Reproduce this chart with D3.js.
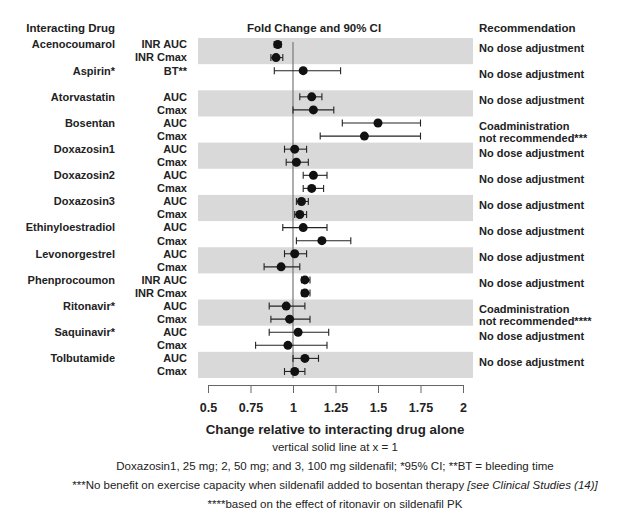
<!DOCTYPE html>
<html>
<head>
<meta charset="utf-8">
<script src="https://cdn.jsdelivr.net/npm/d3@7"></script>
<style>
  body { margin: 0; background: #fff; }
  text { font-family: "Liberation Sans", Arial, sans-serif; fill: #222; }
</style>
</head>
<body>
<script>
const drugs = ["Acenocoumarol", "Aspirin*", "Atorvastatin", "Bosentan", "Doxazosin1", "Doxazosin2",
  "Doxazosin3", "Ethinyloestradiol", "Levonorgestrel", "Phenprocoumon", "Ritonavir*", "Saquinavir*", "Tolbutamide"];

const measures = [["INR AUC", "INR Cmax"], ["BT**"], ["AUC", "Cmax"], ["AUC", "Cmax"], ["AUC", "Cmax"], ["AUC", "Cmax"],
  ["AUC", "Cmax"], ["AUC", "Cmax"], ["AUC", "Cmax"], ["INR AUC", "INR Cmax"], ["AUC", "Cmax"], ["AUC", "Cmax"], ["AUC", "Cmax"]];

const ratio = [[0.91, 0.90], [1.06], [1.11, 1.12], [1.50, 1.42], [1.01, 1.02], [1.12, 1.11],
  [1.05, 1.04], [1.06, 1.17], [1.01, 0.93], [1.07, 1.07], [0.96, 0.98], [1.03, 0.97], [1.07, 1.01]];
const ciLow = [[0.89, 0.87], [0.89], [1.04, 1.00], [1.29, 1.16], [0.95, 0.96], [1.06, 1.06],
  [1.02, 1.01], [0.94, 1.02], [0.95, 0.83], [1.05, 1.05], [0.86, 0.87], [0.86, 0.78], [1.00, 0.95]];
const ciHigh = [[0.93, 0.94], [1.28], [1.17, 1.24], [1.75, 1.75], [1.08, 1.09], [1.20, 1.18],
  [1.09, 1.08], [1.20, 1.34], [1.08, 1.04], [1.10, 1.10], [1.07, 1.10], [1.21, 1.20], [1.15, 1.07]];

const recommendations = [["No dose adjustment"], ["No dose adjustment"], ["No dose adjustment"],
  ["Coadministration", "not recommended***"], ["No dose adjustment"], ["No dose adjustment"],
  ["No dose adjustment"], ["No dose adjustment"], ["No dose adjustment"], ["No dose adjustment"],
  ["Coadministration", "not recommended****"], ["No dose adjustment"], ["No dose adjustment"]];

const xTicks = [0.5, 0.75, 1, 1.25, 1.5, 1.75, 2];

const w = 624, h = 531;

const svg = d3.select("body").append("svg")
  .attr("width", w)
  .attr("height", h);

const x = d3.scaleLinear().domain([0.5, 2]).range([208, 463]);
const y = d3.scaleBand().domain(drugs).range([38, 378]);
const slot = d3.scalePoint().domain([0, 1]).range([0, y.bandwidth()]).padding(0.5);

// rows
const rows = [];
drugs.forEach((d, i) => {
  measures[i].forEach((m, j) => {
    rows.push({ drug: d, measure: m, j: j, v: ratio[i][j], lo: ciLow[i][j], hi: ciHigh[i][j] });
  });
});
const rowY = r => y(r.drug) + slot(r.j);

// shaded bands
svg.selectAll("rect.band")
  .data(drugs.filter((d, i) => i % 2 === 0))
  .enter().append("rect")
  .attr("class", "band")
  .attr("x", x(0.5) - 10)
  .attr("y", d => y(d))
  .attr("width", x(2) - x(0.5) + 20)
  .attr("height", y.bandwidth())
  .attr("fill", "#d9d9d9");

// reference line at 1
svg.append("line")
  .attr("x1", x(1)).attr("x2", x(1))
  .attr("y1", 42).attr("y2", 378)
  .attr("stroke", "#777")
  .attr("stroke-width", 1.2);

// headers
svg.append("text").attr("x", 115).attr("y", 32).attr("text-anchor", "end")
  .style("font-size", "11.5px").style("font-weight", "bold").text("Interacting Drug");
svg.append("text").attr("x", 314).attr("y", 32).attr("text-anchor", "middle")
  .style("font-size", "11.5px").style("font-weight", "bold").text("Fold Change and 90% CI");
svg.append("text").attr("x", 479).attr("y", 32)
  .style("font-size", "11.5px").style("font-weight", "bold").text("Recommendation");

// drug labels
svg.selectAll("text.drug")
  .data(drugs)
  .enter().append("text")
  .attr("class", "drug")
  .attr("x", 115)
  .attr("y", d => y(d) + slot(0))
  .attr("dy", "0.35em")
  .attr("text-anchor", "end")
  .style("font-size", "11px").style("font-weight", "bold")
  .text(d => d);

// measure labels
svg.selectAll("text.measure")
  .data(rows)
  .enter().append("text")
  .attr("class", "measure")
  .attr("x", 187)
  .attr("y", rowY)
  .attr("dy", "0.35em")
  .attr("text-anchor", "end")
  .style("font-size", "11px").style("font-weight", "bold")
  .text(d => d.measure);

// CI lines
const ci = svg.selectAll("g.ci")
  .data(rows)
  .enter().append("g")
  .attr("class", "ci")
  .attr("stroke", "#222")
  .attr("stroke-width", 1.1);
ci.append("line")
  .attr("x1", d => x(d.lo)).attr("x2", d => x(d.hi))
  .attr("y1", rowY).attr("y2", rowY);
ci.append("line")
  .attr("x1", d => x(d.lo)).attr("x2", d => x(d.lo))
  .attr("y1", d => rowY(d) - 3.5).attr("y2", d => rowY(d) + 3.5);
ci.append("line")
  .attr("x1", d => x(d.hi)).attr("x2", d => x(d.hi))
  .attr("y1", d => rowY(d) - 3.5).attr("y2", d => rowY(d) + 3.5);

svg.selectAll("circle.pt")
  .data(rows)
  .enter().append("circle")
  .attr("class", "pt")
  .attr("cx", d => x(d.v))
  .attr("cy", rowY)
  .attr("r", 4.5)
  .attr("fill", "#111");

// recommendations
const rec = svg.selectAll("text.rec")
  .data(drugs)
  .enter().append("text")
  .attr("class", "rec")
  .attr("x", 479)
  .attr("y", d => y(d) + y.bandwidth() / 2 - 3)
  .style("font-size", "11px").style("font-weight", "bold");
rec.selectAll("tspan")
  .data((d, i) => recommendations[i])
  .enter().append("tspan")
  .attr("x", 479)
  .attr("dy", (d, k) => k === 0 ? "0.35em" : "12")
  .text(d => d);

// x axis
const xAxis = d3.axisBottom(x)
  .tickValues(xTicks)
  .tickFormat(d => d)
  .tickSize(8)
  .tickSizeOuter(8);
const ax = svg.append("g")
  .attr("transform", "translate(0,385)")
  .call(xAxis);
ax.selectAll("path, line").attr("stroke", "#666");
ax.selectAll("text")
  .attr("y", 18)
  .style("font-family", "'Liberation Sans', Arial, sans-serif")
  .style("font-size", "12.5px")
  .style("font-weight", "bold")
  .style("fill", "#222");

svg.append("text")
  .attr("x", 335).attr("y", 434)
  .attr("text-anchor", "middle")
  .style("font-size", "13.3px").style("font-weight", "bold")
  .text("Change relative to interacting drug alone");

// footnotes
const notes = svg.append("g").style("font-size", "11.5px");
notes.append("text").attr("x", 335).attr("y", 451).attr("text-anchor", "middle")
  .text("vertical solid line at x = 1");
notes.append("text").attr("x", 335).attr("y", 470).attr("text-anchor", "middle")
  .text("Doxazosin1, 25 mg; 2, 50 mg; and 3, 100 mg sildenafil; *95% CI; **BT = bleeding time");
const n3 = notes.append("text").attr("x", 335).attr("y", 489).attr("text-anchor", "middle");
n3.append("tspan").text("***No benefit on exercise capacity when sildenafil added to bosentan therapy ");
n3.append("tspan").style("font-style", "italic").text("[see Clinical Studies (14)]");
notes.append("text").attr("x", 335).attr("y", 508).attr("text-anchor", "middle")
  .text("****based on the effect of ritonavir on sildenafil PK");
</script>
</body>
</html>
